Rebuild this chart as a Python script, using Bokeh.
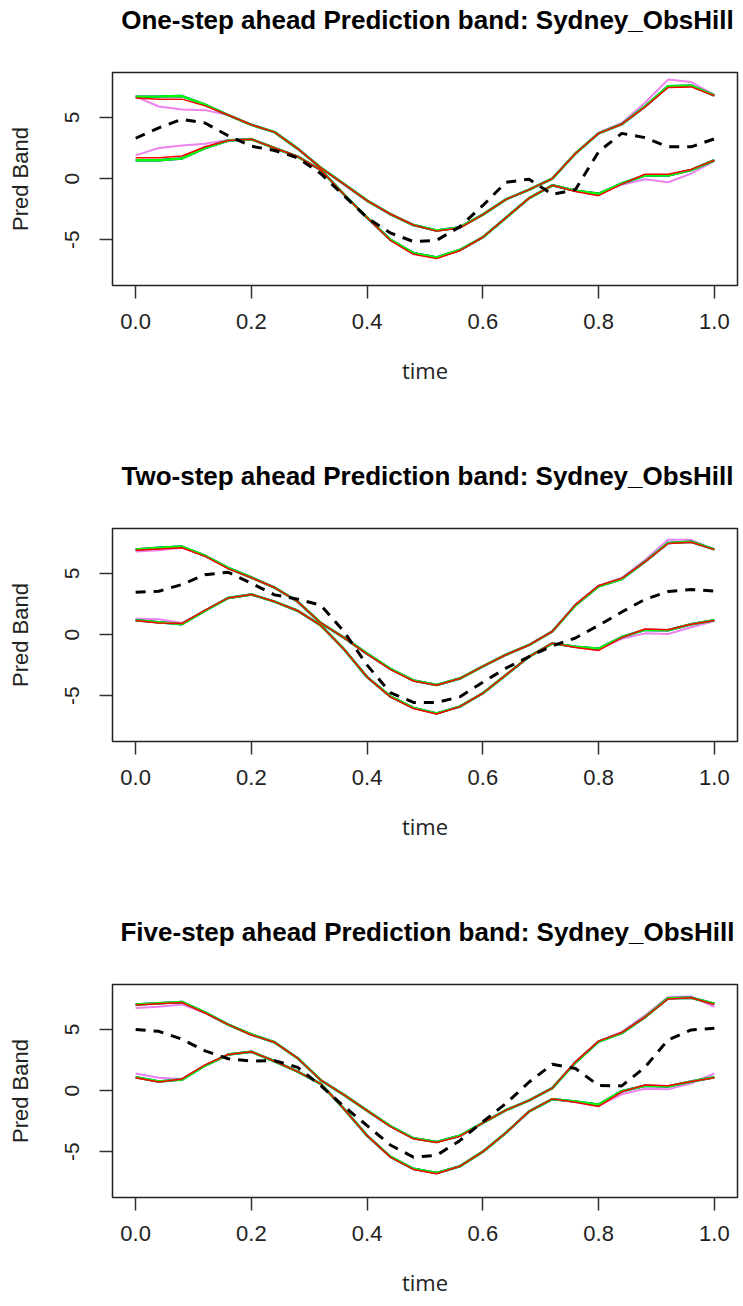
from bokeh.plotting import figure
from bokeh.layouts import column
from bokeh.models import Range1d, FixedTicker, NumeralTickFormatter, Div
from bokeh.embed import file_html
from bokeh.resources import INLINE

# Time grid shared by all series
time = [0.00, 0.04, 0.08, 0.12, 0.16, 0.20, 0.24, 0.28, 0.32, 0.36, 0.40, 0.44, 0.48,
        0.52, 0.56, 0.60, 0.64, 0.68, 0.72, 0.76, 0.80, 0.84, 0.88, 0.92, 0.96, 1.00]

# ---- One-step ahead ----
one_upper = [6.70, 6.72, 6.75, 6.05, 5.20, 4.40, 3.80, 2.45, 0.88, -0.45, -1.80, -2.90, -3.80,
             -4.25, -4.00, -2.95, -1.70, -0.90, 0.00, 2.05, 3.70, 4.45, 5.90, 7.55, 7.60, 6.80]
one_upper_red = [6.60, 6.50, 6.50, 5.95, 5.20, 4.40, 3.80, 2.45, 0.88, -0.45, -1.80, -2.90, -3.80,
                 -4.30, -4.05, -2.95, -1.70, -0.90, 0.00, 2.05, 3.70, 4.45, 5.85, 7.45, 7.50, 6.78]
one_upper_violet = [6.70, 5.90, 5.65, 5.60, 5.20, 4.40, 3.80, 2.45, 0.85, -0.50, -1.85, -2.95, -3.85,
                    -4.25, -3.95, -2.90, -1.70, -0.90, 0.00, 2.10, 3.75, 4.55, 6.20, 8.10, 7.90, 6.85]
one_lower = [1.50, 1.50, 1.65, 2.50, 3.12, 3.22, 2.50, 1.80, 0.70, -1.30, -3.20, -5.00, -6.10,
             -6.45, -5.85, -4.80, -3.20, -1.60, -0.55, -1.00, -1.25, -0.40, 0.25, 0.25, 0.70, 1.50]
one_lower_red = [1.70, 1.70, 1.85, 2.60, 3.12, 3.22, 2.50, 1.80, 0.70, -1.30, -3.20, -5.05, -6.20,
                 -6.55, -5.90, -4.80, -3.20, -1.60, -0.55, -1.05, -1.40, -0.45, 0.35, 0.35, 0.75, 1.50]
one_lower_violet = [1.90, 2.50, 2.70, 2.85, 3.15, 3.25, 2.50, 1.80, 0.70, -1.30, -3.20, -5.00, -6.10,
                    -6.45, -5.85, -4.80, -3.20, -1.60, -0.55, -1.00, -1.20, -0.50, -0.05, -0.30, 0.40, 1.45]
one_mean = [3.30, 4.15, 4.85, 4.55, 3.50, 2.65, 2.30, 1.70, 0.40, -1.40, -3.20, -4.45, -5.15,
            -5.05, -3.95, -2.20, -0.30, -0.05, -1.30, -0.90, 2.20, 3.70, 3.35, 2.60, 2.60, 3.25]

# ---- Two-step ahead ----
two_upper = [6.97, 7.10, 7.20, 6.45, 5.45, 4.67, 3.85, 2.70, 0.95, -0.25, -1.56, -2.80, -3.75,
             -4.12, -3.60, -2.60, -1.65, -0.85, 0.25, 2.40, 3.95, 4.55, 5.95, 7.50, 7.60, 6.97]
two_upper_red = [6.90, 7.00, 7.10, 6.40, 5.40, 4.65, 3.85, 2.70, 0.95, -0.25, -1.60, -2.85, -3.80,
                 -4.15, -3.60, -2.60, -1.65, -0.85, 0.25, 2.45, 4.00, 4.60, 5.95, 7.45, 7.55, 6.95]
two_upper_violet = [6.80, 6.90, 7.10, 6.45, 5.45, 4.67, 3.85, 2.65, 0.90, -0.30, -1.60, -2.80, -3.75,
                    -4.12, -3.60, -2.60, -1.65, -0.85, 0.30, 2.45, 4.00, 4.65, 6.10, 7.75, 7.75, 6.95]
two_lower = [1.17, 1.00, 0.85, 1.95, 3.00, 3.28, 2.70, 1.95, 0.75, -1.20, -3.48, -5.05, -6.00,
             -6.45, -5.90, -4.80, -3.30, -1.80, -0.72, -1.00, -1.15, -0.20, 0.38, 0.35, 0.85, 1.17]
two_lower_red = [1.15, 0.95, 0.90, 2.00, 3.00, 3.28, 2.70, 1.95, 0.75, -1.20, -3.48, -5.10, -6.05,
                 -6.50, -5.90, -4.80, -3.30, -1.80, -0.70, -1.05, -1.30, -0.25, 0.45, 0.40, 0.85, 1.15]
two_lower_violet = [1.30, 1.25, 0.95, 1.95, 3.00, 3.28, 2.70, 1.95, 0.75, -1.20, -3.48, -5.05, -6.00,
                    -6.45, -5.90, -4.80, -3.30, -1.80, -0.72, -1.00, -1.20, -0.35, 0.10, 0.05, 0.60, 1.10]
two_mean = [3.47, 3.55, 4.10, 4.90, 5.10, 4.20, 3.25, 2.90, 2.40, 0.25, -2.50, -4.75, -5.55,
            -5.55, -5.10, -3.90, -2.75, -1.80, -0.92, -0.28, 0.75, 1.85, 2.88, 3.52, 3.68, 3.57]

# ---- Five-step ahead ----
five_upper = [7.05, 7.15, 7.25, 6.40, 5.40, 4.59, 3.95, 2.65, 0.85, -0.35, -1.64, -2.90, -3.90,
              -4.20, -3.70, -2.65, -1.60, -0.80, 0.20, 2.30, 4.00, 4.70, 6.00, 7.55, 7.60, 7.10]
five_upper_red = [7.00, 7.10, 7.20, 6.35, 5.40, 4.55, 3.95, 2.65, 0.85, -0.35, -1.64, -2.95, -3.95,
                  -4.25, -3.75, -2.65, -1.60, -0.80, 0.20, 2.35, 4.05, 4.75, 6.00, 7.50, 7.60, 7.05]
five_upper_violet = [6.75, 6.85, 7.05, 6.35, 5.40, 4.59, 3.95, 2.65, 0.85, -0.35, -1.64, -2.90, -3.90,
                     -4.20, -3.70, -2.65, -1.60, -0.80, 0.25, 2.35, 4.05, 4.80, 6.15, 7.65, 7.70, 6.85]
five_lower = [1.09, 0.75, 0.90, 2.05, 2.95, 3.18, 2.40, 1.55, 0.55, -1.50, -3.69, -5.40, -6.40,
              -6.75, -6.20, -5.00, -3.45, -1.70, -0.70, -0.90, -1.15, -0.05, 0.40, 0.33, 0.75, 1.09]
five_lower_red = [1.05, 0.70, 0.95, 2.10, 2.95, 3.18, 2.40, 1.55, 0.55, -1.50, -3.69, -5.45, -6.45,
                  -6.80, -6.20, -5.00, -3.45, -1.70, -0.68, -0.95, -1.30, -0.10, 0.45, 0.40, 0.75, 1.05]
five_lower_violet = [1.40, 1.05, 0.95, 2.05, 2.95, 3.18, 2.40, 1.55, 0.55, -1.50, -3.69, -5.40, -6.40,
                     -6.75, -6.20, -5.00, -3.45, -1.70, -0.72, -0.95, -1.25, -0.30, 0.15, 0.10, 0.60, 1.40]
five_mean = [5.00, 4.85, 4.20, 3.25, 2.60, 2.42, 2.45, 1.90, 0.40, -1.30, -2.87, -4.45, -5.45,
             -5.30, -4.10, -2.55, -1.05, 0.70, 2.15, 1.80, 0.42, 0.38, 1.90, 4.15, 4.96, 5.10]

titles = ["One-step ahead Prediction band: Sydney_ObsHill",
          "Two-step ahead Prediction band: Sydney_ObsHill",
          "Five-step ahead Prediction band: Sydney_ObsHill"]
x_ticks = [0.0, 0.2, 0.4, 0.6, 0.8, 1.0]
y_ticks = [-5, 0, 5]

panels = [
    (titles[0], one_upper, one_upper_red, one_upper_violet,
     one_lower, one_lower_red, one_lower_violet, one_mean),
    (titles[1], two_upper, two_upper_red, two_upper_violet,
     two_lower, two_lower_red, two_lower_violet, two_mean),
    (titles[2], five_upper, five_upper_red, five_upper_violet,
     five_lower, five_lower_red, five_lower_violet, five_mean),
]

BLUE, GREEN, RED, VIOLET = "#0000FF", "#00FF00", "#FF0000", "#EE82EE"
FRAME_H = 213
TITLE_H = 40
TOP_GAP = 32


def make_title(text):
    return Div(text=text, width=743, height=TITLE_H, margin=(0, 0, 0, 0),
               styles={"font-family": "'Liberation Sans', Arial, sans-serif",
                       "font-size": "26px", "font-weight": "bold", "color": "#000000",
                       "text-align": "center", "line-height": f"{TITLE_H}px",
                       "white-space": "nowrap", "width": "631px",
                       "padding-left": "112px", "box-sizing": "content-box"})


def make_panel(title, up, up_red, up_violet, lo, lo_red, lo_violet, mean, height):
    p = figure(width=743, height=height - TITLE_H, output_backend="svg", toolbar_location=None,
               x_range=Range1d(-0.04, 1.04), y_range=Range1d(-8.75, 8.68),
               min_border_left=112, min_border_right=6, min_border_top=TOP_GAP,
               min_border_bottom=height - TITLE_H - TOP_GAP - FRAME_H,
               background_fill_color="white", border_fill_color="white")
    p.margin = (0, 0, 0, 0)

    p.xgrid.grid_line_color = None
    p.ygrid.grid_line_color = None
    p.outline_line_color = "#222222"
    p.outline_line_width = 1.5
    p.outline_line_alpha = 1.0

    for ax in (p.xaxis[0], p.yaxis[0]):
        ax.axis_line_color = None
        ax.major_tick_line_color = "#333333"
        ax.major_tick_line_width = 1.5
        ax.major_tick_out = 13
        ax.major_tick_in = 0
        ax.minor_tick_line_color = None
        ax.major_label_text_font = "Liberation Sans"
        ax.major_label_text_color = "#222222"
        ax.axis_label_text_font_style = "normal"
        ax.axis_label_text_color = "#222222"

    xa = p.xaxis[0]
    xa.ticker = FixedTicker(ticks=x_ticks)
    xa.formatter = NumeralTickFormatter(format="0.0")
    xa.major_label_text_font_size = "22px"
    xa.major_label_standoff = 15
    xa.axis_label = "time"
    xa.axis_label_text_font = "Open Sans"
    xa.axis_label_text_font_size = "22px"
    xa.axis_label_standoff = 23

    ya = p.yaxis[0]
    ya.ticker = FixedTicker(ticks=y_ticks)
    ya.major_label_overrides = {-5: "-5", 0: "0", 5: "5"}
    ya.major_label_orientation = "vertical"
    ya.major_label_text_font_size = "21px"
    ya.major_label_standoff = 20
    ya.axis_label = "Pred Band"
    ya.axis_label_text_font = "Liberation Sans"
    ya.axis_label_text_font_size = "22px"
    ya.axis_label_standoff = 30

    # Prediction band bounds from each method
    p.line(time, up_violet, line_color=VIOLET, line_width=2)
    p.line(time, lo_violet, line_color=VIOLET, line_width=2)
    p.line(time, up, line_color=BLUE, line_width=2.5)
    p.line(time, lo, line_color=BLUE, line_width=2.5)
    p.line(time, up, line_color=GREEN, line_width=2.5)
    p.line(time, lo, line_color=GREEN, line_width=2.5)
    p.line(time, up_red, line_color=RED, line_width=1.5)
    p.line(time, lo_red, line_color=RED, line_width=1.5)

    # Point forecast
    p.line(time, mean, line_color="black", line_width=3, line_dash="10 8")
    return p


heights = [456, 456, 394]
children = []
for spec, h in zip(panels, heights):
    children.append(make_title(spec[0]))
    children.append(make_panel(*spec, height=h))
layout = column(*children, spacing=0)

open("out.html", "w").write(file_html(layout, INLINE))
